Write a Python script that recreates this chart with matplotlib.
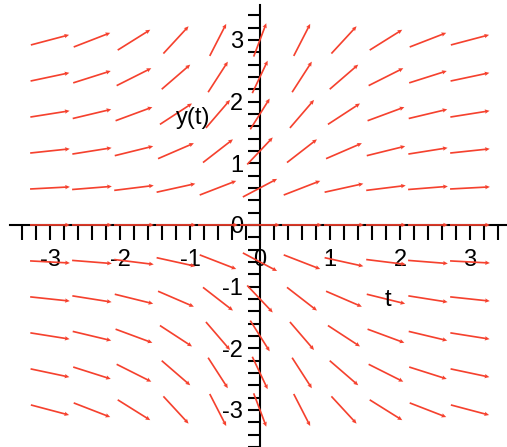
import numpy as np
import matplotlib
matplotlib.use("Agg")
import matplotlib.pyplot as plt
from matplotlib.ticker import MultipleLocator

t_grid = [-3, -2.4, -1.8, -1.2, -0.6, 0, 0.6, 1.2, 1.8, 2.4, 3]
y_grid = [3, 2.4, 1.8, 1.2, 0.6, 0, -0.6, -1.2, -1.8, -2.4, -3]

# slope dy/dt at each grid point, one row per y value (top to bottom)
slopes = [
    [0.30, 0.44, 0.71, 1.23, 2.21, 3.00, 2.21, 1.23, 0.71, 0.44, 0.30],
    [0.24, 0.36, 0.57, 0.98, 1.76, 2.40, 1.76, 0.98, 0.57, 0.36, 0.24],
    [0.18, 0.27, 0.42, 0.74, 1.32, 1.80, 1.32, 0.74, 0.42, 0.27, 0.18],
    [0.12, 0.18, 0.28, 0.49, 0.88, 1.20, 0.88, 0.49, 0.28, 0.18, 0.12],
    [0.06, 0.09, 0.14, 0.25, 0.44, 0.60, 0.44, 0.25, 0.14, 0.09, 0.06],
    [0.00, 0.00, 0.00, 0.00, 0.00, 0.00, 0.00, 0.00, 0.00, 0.00, 0.00],
    [-0.06, -0.09, -0.14, -0.25, -0.44, -0.60, -0.44, -0.25, -0.14, -0.09, -0.06],
    [-0.12, -0.18, -0.28, -0.49, -0.88, -1.20, -0.88, -0.49, -0.28, -0.18, -0.12],
    [-0.18, -0.27, -0.42, -0.74, -1.32, -1.80, -1.32, -0.74, -0.42, -0.27, -0.18],
    [-0.24, -0.36, -0.57, -0.98, -1.76, -2.40, -1.76, -0.98, -0.57, -0.36, -0.24],
    [-0.30, -0.44, -0.71, -1.23, -2.21, -3.00, -2.21, -1.23, -0.71, -0.44, -0.30],
]

x_ticks = [-3, -2, -1, 0, 1, 2, 3]
y_ticks = [-3, -2, -1, 0, 1, 2, 3]

ARROW_COLOR = "#F5412E"
ARROW_LEN = 0.57
FONT = "Liberation Sans"

plt.rcParams["axes.unicode_minus"] = False

# --- PLOT ---
fig = plt.figure(figsize=(5.07, 4.47), dpi=100)
ax = fig.add_axes([10 / 507, 0, 497 / 507, 442 / 447])
ax.set_xlim(-3.571, 3.529)
ax.set_ylim(-3.60, 3.566)

T, Y = np.meshgrid(t_grid, y_grid)
S = np.array(slopes)
norm = np.sqrt(1 + S ** 2)
U = ARROW_LEN / norm
V = ARROW_LEN * S / norm

ax.quiver(T, Y, U, V, angles="xy", scale_units="xy", scale=1, pivot="middle",
          color=ARROW_COLOR, width=0.0034, headwidth=2.6, headlength=2.8,
          headaxislength=2.5, zorder=3)

# Maple-style axes through the origin
for side in ["top", "right"]:
    ax.spines[side].set_visible(False)
ax.spines["left"].set_position(("data", 0))
ax.spines["bottom"].set_position(("data", 0))
ax.spines["left"].set_linewidth(1.5)
ax.spines["bottom"].set_linewidth(1.5)

ax.set_xticks(x_ticks)
ax.set_yticks(y_ticks)
ax.xaxis.set_minor_locator(MultipleLocator(0.2))
ax.yaxis.set_minor_locator(MultipleLocator(0.2))
ax.tick_params(axis="x", which="both", direction="out", length=10.5, width=1.5, pad=7)
ax.tick_params(axis="y", which="both", direction="out", length=9, width=1.5, pad=3)
for lab in ax.get_xticklabels() + ax.get_yticklabels():
    lab.set_fontfamily(FONT)
    lab.set_fontsize(17)

ax.text(-0.96, 1.73, "y(t)", fontsize=17, family=FONT, ha="center", va="center")
ax.text(1.83, -1.22, "t", fontsize=17, family=FONT, ha="center", va="center")

ax.patch.set_visible(False)
fig.savefig("out.png", dpi=100)
